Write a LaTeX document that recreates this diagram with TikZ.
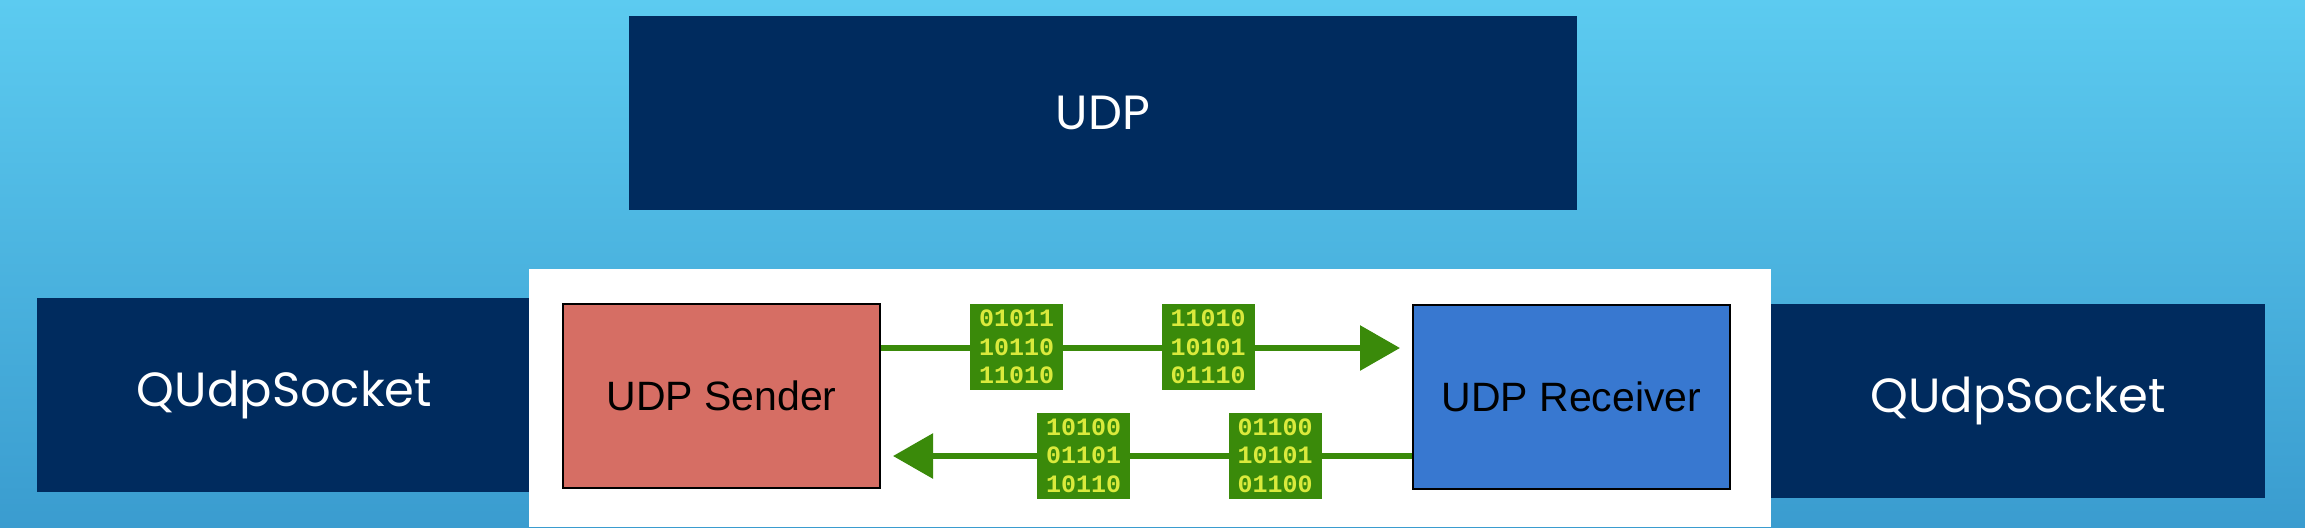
\documentclass[tikz,border=0pt]{standalone}
\usepackage{fontspec}
\setmainfont{Liberation Sans}
\newfontfamily\geofont{Poppins}
\newfontfamily\bitfont{Liberation Mono}
\usepackage{tikz}
\usetikzlibrary{arrows.meta, positioning}
\definecolor{skytop}{RGB}{92,203,240}
\definecolor{skybot}{RGB}{58,156,207}
\definecolor{qtnavy}{RGB}{0,43,94}
\definecolor{sendred}{RGB}{214,110,100}
\definecolor{recvblue}{RGB}{56,120,208}
\definecolor{bitgreen}{RGB}{58,138,10}
\definecolor{bityellow}{RGB}{218,234,60}

\begin{document}
\begin{tikzpicture}[x=0.5pt, y=-0.5pt,
  qbox/.style={rectangle, fill=qtnavy, text=white, inner sep=0pt,
               font=\geofont\fontsize{24}{28}\selectfont},
  ubox/.style={rectangle, draw=black, line width=1pt, inner sep=0pt,
               minimum width=158.5pt, minimum height=92pt,
               font=\fontsize{20.5}{24}\selectfont},
  pkt/.style={rectangle, fill=bitgreen, text=bityellow, inner sep=0pt,
              minimum width=46.5pt, minimum height=43pt, align=center,
              font=\bitfont\bfseries\fontsize{12.5}{14.2}\selectfont},
  arr/.style={-{Triangle[length=20pt, width=22pt]}, line width=3pt,
              color=bitgreen, shorten >=6pt}
]

%% ── Background ──────────────────────────────────────────────────────────
\shade[top color=skytop, bottom color=skybot] (0,0) rectangle (2305,527);
\useasboundingbox (0,0) rectangle (2305,527);

%% ── Qt layer ────────────────────────────────────────────────────────────
\node[qbox, minimum width=474pt, minimum height=97pt] (udp) at (1103, 113) {UDP};
\node[qbox, minimum width=247.5pt, minimum height=97pt] (sockL) at (284.5, 395) {QUdpSocket};
\node[qbox, minimum width=247pt, minimum height=97pt] (sockR) at (2018, 401) {QUdpSocket};

%% ── Sender / receiver panel ─────────────────────────────────────────────
\fill[white] (529, 269) rectangle (1771, 527);

\node[ubox, fill=sendred]  (sender)   at (721.5, 396)  {UDP Sender};
\node[ubox, fill=recvblue] (receiver) at (1571.5, 397) {UDP Receiver};

%% ── Datagrams ───────────────────────────────────────────────────────────
\coordinate (outrow) at (1016.5, 348);
\coordinate (backrow) at (1083.5, 456);

\draw[arr] (sender.east |- outrow) -- (receiver.west |- outrow);
\draw[arr] (receiver.west |- backrow) -- (sender.east |- backrow);

\node[pkt] (p1) at (1016.5, 347) {01011\\10110\\11010};
\node[pkt] (p2) at (1208, 347)   {11010\\10101\\01110};
\node[pkt] (p3) at (1083.5, 455.5) {10100\\01101\\10110};
\node[pkt] (p4) at (1275, 455.5)   {01100\\10101\\01100};

\end{tikzpicture}
\end{document}
